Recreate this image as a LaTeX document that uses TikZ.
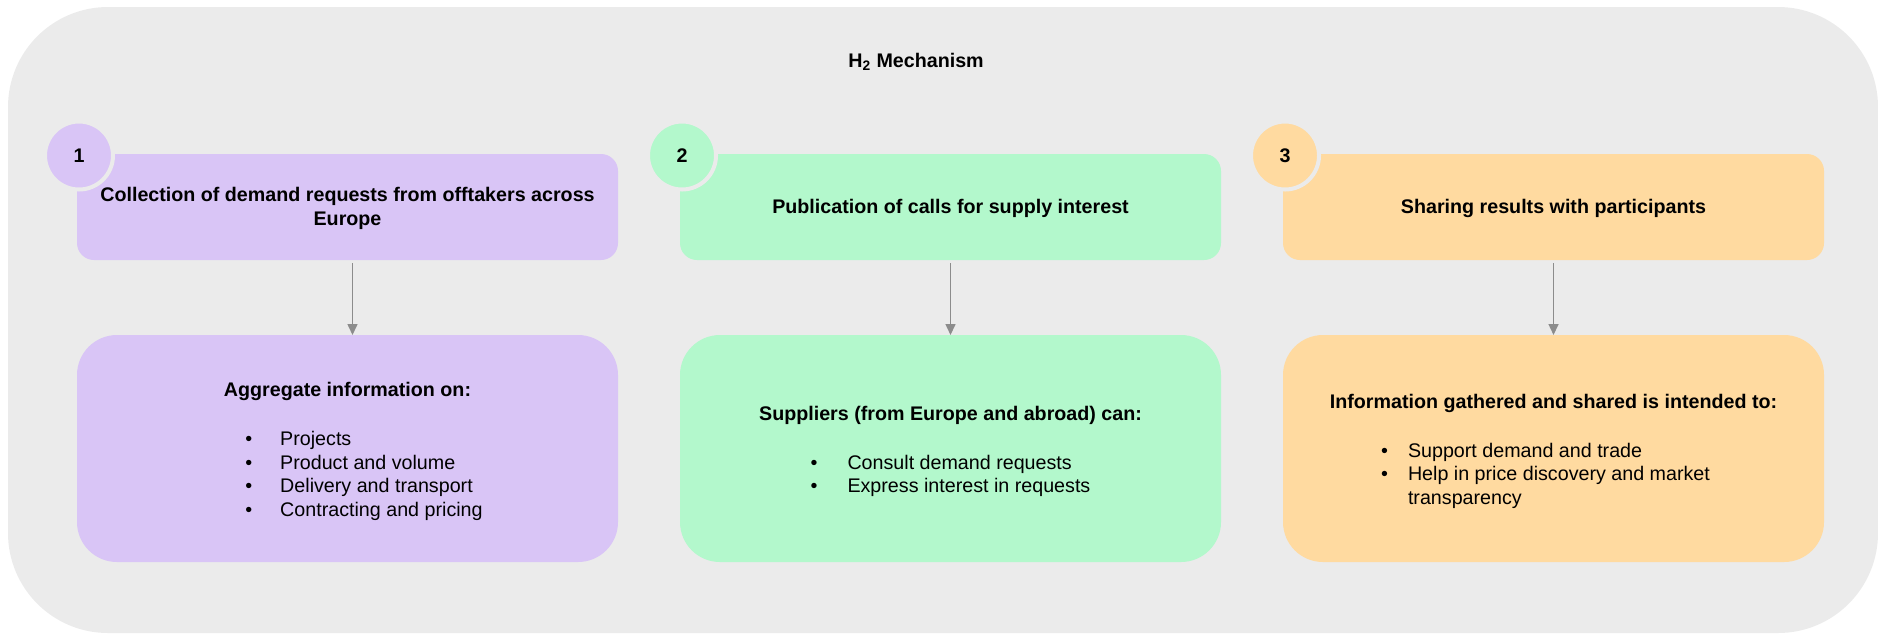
\documentclass[tikz,border=0pt]{standalone}
\usepackage{fontspec}
\setmainfont{Liberation Sans}
\usetikzlibrary{positioning,arrows.meta}
\definecolor{bggray}{HTML}{EBEBEB}
\definecolor{lilac}{HTML}{D9C5F6}
\definecolor{mint}{HTML}{B3F8CC}
\definecolor{peach}{HTML}{FFDAA0}
\definecolor{arrowgray}{HTML}{8C8C8C}
\newcommand{\boxfont}{\fontsize{11.2}{13.4}\selectfont}
\tikzset{
	headbox/.style={fill=#1, rounded corners=0.34cm, minimum width=10.82cm, minimum height=2.12cm, inner sep=0, outer sep=0, align=center, font=\boxfont\bfseries},
	infobox/.style={fill=#1, rounded corners=0.8cm, minimum width=10.82cm, minimum height=4.54cm, inner sep=0, outer sep=0, align=center, font=\boxfont},
	stepnum/.style={circle, fill=#1, draw=bggray, line width=0.08cm, minimum size=1.36cm, inner sep=0, font=\boxfont\bfseries},
	flow/.style={draw=arrowgray, line width=0.03cm, shorten <=0.06cm, -{Triangle[length=0.22cm, width=0.2cm]}}
}
\begin{document}
\begin{tikzpicture}[line join=round, font=\boxfont]
	\useasboundingbox (0,0) rectangle (37.56,-12.66);
	\fill[bggray, rounded corners=2cm] (0.16,-0.14) rectangle (37.56,-12.66);
	\node[anchor=base] (title) at (18.32,-1.34) {\bfseries H\textsubscript{2} Mechanism};
	% steps
	\node[headbox=lilac] (t1) at (6.95,-4.14) {\rule{0pt}{10pt}Collection of demand requests from offtakers across\\ Europe};
	\node[headbox=mint, right=1.24cm of t1] (t2) {\rule{0pt}{10pt}Publication of calls for supply interest};
	\node[headbox=peach, right=1.24cm of t2] (t3) {\rule{0pt}{10pt}Sharing results with participants};
	% details
	\node[infobox=lilac, below=1.5cm of t1] (b1) {\rule{0pt}{13pt}\textbf{Aggregate information on:}\\[14.5pt]
		\hspace*{0.66cm}\begin{tabular}[t]{@{}l@{\hspace{0.56cm}}l@{}}
			\textbullet & Projects\\
			\textbullet & Product and volume\\
			\textbullet & Delivery and transport\\
			\textbullet & Contracting and pricing
		\end{tabular}};
	\node[infobox=mint, below=1.5cm of t2] (b2) {\rule{0pt}{13pt}\textbf{Suppliers (from Europe and abroad) can:}\\[14.5pt]
		\begin{tabular}[t]{@{}l@{\hspace{0.6cm}}l@{}}
			\textbullet & Consult demand requests\\
			\textbullet & Express interest in requests
		\end{tabular}};
	\node[infobox=peach, below=1.5cm of t3] (b3) {\rule{0pt}{13pt}\textbf{Information gathered and shared is intended to:}\\[14.5pt]
		\hspace*{-0.32cm}\begin{tabular}[t]{@{}l@{\hspace{0.4cm}}l@{}}
			\textbullet & Support demand and trade\\
			\textbullet & Help in price discovery and market\\
			& transparency
		\end{tabular}};
	\foreach \t/\c/\n in {t1/lilac/1, t2/mint/2, t3/peach/3}
	\node[stepnum=\c] (n\n) at ([shift={(0.04,-0.03)}]\t.north west) {\n};
	\foreach \t/\b/\s in {t1/b1/0.1, t2/b2/0, t3/b3/0}
	\draw[flow] ([xshift=\s cm]\t.south) -- ([xshift=\s cm]\b.north);
\end{tikzpicture}
\end{document}
